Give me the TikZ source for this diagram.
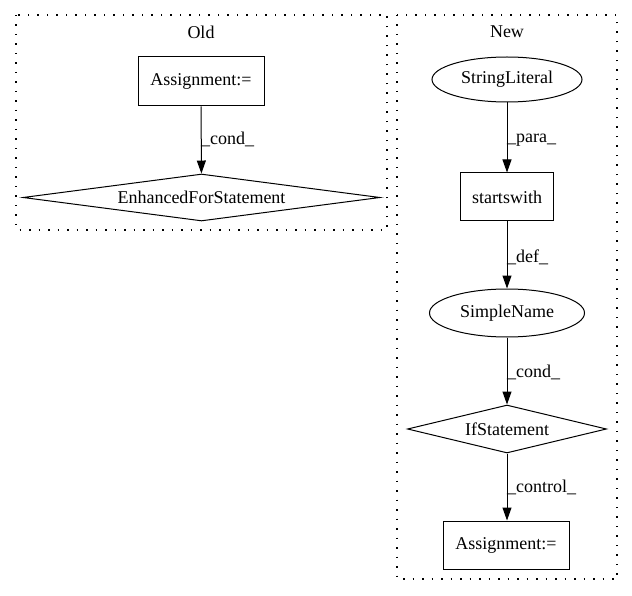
\documentclass[tikz,border=0pt]{standalone}
\usepackage{fontspec}
\setmainfont{Liberation Serif}
\usetikzlibrary{shapes.geometric,arrows.meta}
\begin{document}
\begin{tikzpicture}[x=1pt,y=-1pt,
  every node/.style={font=\fontsize{18}{21}\selectfont, inner sep=0pt},
  boxnode/.style={draw, line width=1pt, rectangle},
  ellnode/.style={draw, line width=1pt, ellipse},
  dianode/.style={draw, line width=1pt, diamond, aspect=5},
  cluster/.style={line width=1.2pt, dash pattern=on 1.5pt off 8pt},
  edge/.style={line width=1pt, -{Triangle[length=13pt,width=9pt]}},
  elabel/.style={anchor=west}]
\useasboundingbox (0,0) rectangle (632,596);
% clusters
\draw[cluster] (16,15) rectangle (387,230);
\draw[cluster] (397,15) rectangle (617,579);
\node (oldt) at (201,32) {Old};
\node (newt) at (507,32) {New};
% Old
\node[boxnode, minimum width=126pt, minimum height=49pt] (oa) at (201,81.5) {Assignment:=};
\node[dianode, minimum width=357pt, minimum height=47pt] (efs) at (201.5,197.5) {EnhancedForStatement};
\draw[edge] (oa) -- (efs);
\node[elabel] (l1) at (201,139) {\_cond\_};
% New
\node[ellnode, minimum width=150pt, minimum height=45pt] (sl) at (507,79.5) {StringLiteral};
\node[boxnode, minimum width=93pt, minimum height=48pt] (sw) at (507,197) {startswith};
\node[ellnode, minimum width=155pt, minimum height=48pt] (sn) at (507,313) {SimpleName};
\node[dianode, minimum width=199pt, minimum height=48pt] (ifs) at (507,429) {IfStatement};
\node[boxnode, minimum width=126pt, minimum height=48pt] (na) at (506,545) {Assignment:=};
\draw[edge] (sl) -- (sw);
\draw[edge] (sw) -- (sn);
\draw[edge] (sn) -- (ifs);
\draw[edge] (ifs.south) -- (ifs.south |- na.north);
\node[elabel] (l2) at (507,140) {\_para\_};
\node[elabel] (l3) at (507,257) {\_def\_};
\node[elabel] (l4) at (507,372) {\_cond\_};
\node[elabel] (l5) at (507,487) {\_control\_};
\end{tikzpicture}
\end{document}
